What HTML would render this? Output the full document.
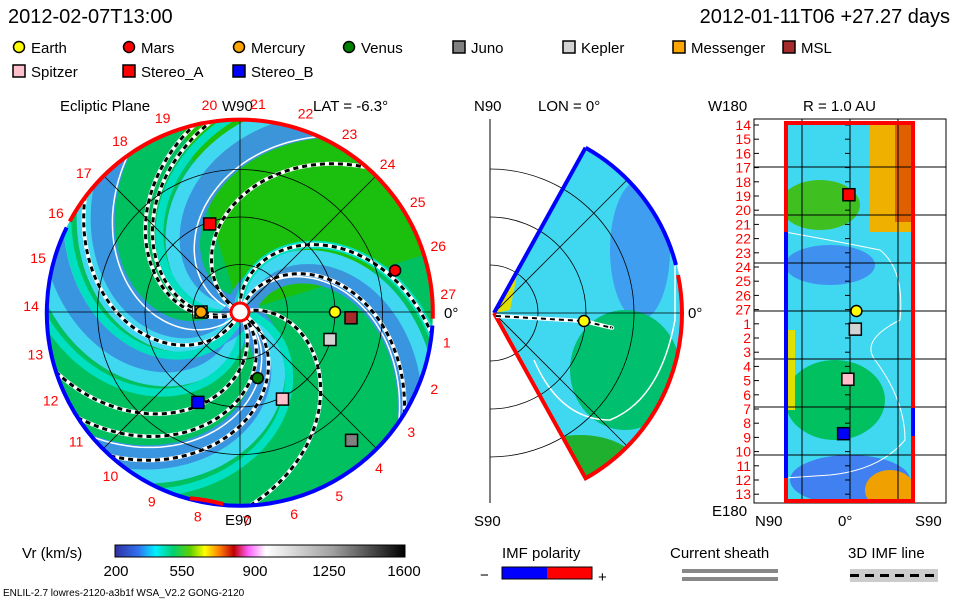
<!DOCTYPE html>
<html><head><meta charset="utf-8"><style>
body{margin:0;background:#fff;width:960px;height:600px;overflow:hidden}
svg{display:block;font-family:"Liberation Sans",sans-serif}
</style></head><body>
<svg id="s" width="960" height="600" viewBox="0 0 960 600" xmlns="http://www.w3.org/2000/svg">
<defs>
<clipPath id="disc"><circle cx="240" cy="312" r="193"/></clipPath>
<clipPath id="wedge"><path d="M494,313 L585.6,147.7 A189,189 0 0 1 585.6,478.3 Z"/></clipPath>
<clipPath id="rect"><rect x="785" y="122" width="129" height="380"/></clipPath>
<linearGradient id="cb" x1="0" x2="1">
<stop offset="0" stop-color="#3030a0"/><stop offset="0.08" stop-color="#3070f0"/><stop offset="0.14" stop-color="#00f0ff"/><stop offset="0.2" stop-color="#00d070"/><stop offset="0.26" stop-color="#60d000"/><stop offset="0.31" stop-color="#ffff00"/><stop offset="0.36" stop-color="#ff8000"/><stop offset="0.41" stop-color="#c00000"/><stop offset="0.46" stop-color="#ff60ff"/><stop offset="0.52" stop-color="#ffffff"/><stop offset="0.75" stop-color="#a0a0a0"/><stop offset="1" stop-color="#000"/>
</linearGradient>
</defs>
<g font-size="20" fill="#000">
<text x="8" y="23">2012-02-07T13:00</text>
<text x="950" y="23" text-anchor="end">2012-01-11T06 +27.27 days</text>
</g>
<g id="legend" font-size="15"></g>
<g font-size="15">
<text x="60" y="111">Ecliptic Plane</text>
<text x="222" y="111">W90</text>
<text x="313" y="111">LAT = -6.3°</text>
<text x="225" y="525">E90</text>
<text x="444" y="318">0°</text>
<text x="474" y="111">N90</text>
<text x="538" y="111">LON = 0°</text>
<text x="474" y="526">S90</text>
<text x="688" y="318">0°</text>
<text x="708" y="111">W180</text>
<text x="803" y="111">R = 1.0 AU</text>
<text x="712" y="516">E180</text>
<text x="755" y="526">N90</text>
<text x="838" y="526">0°</text>
<text x="915" y="526">S90</text>
</g>
<g id="eclip"></g>
<g id="mer"></g>
<g id="rpan"></g>
<g font-size="15">
<text x="22" y="558">Vr (km/s)</text>
<rect x="115" y="545" width="290" height="12" fill="url(#cb)" stroke="#000"/>
<text x="116" y="576" text-anchor="middle">200</text><text x="182" y="576" text-anchor="middle">550</text><text x="255" y="576" text-anchor="middle">900</text><text x="329" y="576" text-anchor="middle">1250</text><text x="404" y="576" text-anchor="middle">1600</text>
<text x="502" y="558">IMF polarity</text>
<text x="480" y="580">−</text><rect x="502" y="567" width="45" height="12" fill="#0000ff"/><rect x="547" y="567" width="45" height="12" fill="#ff0000"/><rect x="502" y="567" width="90" height="12" fill="none" stroke="#000"/><text x="598" y="582">+</text>
<text x="670" y="558">Current sheath</text>
<rect x="682" y="569" width="96" height="4" fill="#888"/><rect x="682" y="577" width="96" height="4" fill="#888"/>
<text x="848" y="558">3D IMF line</text>
<rect x="850" y="569" width="88" height="13" fill="#ccc"/><line x1="850" y1="575.5" x2="938" y2="575.5" stroke="#000" stroke-width="3" stroke-dasharray="9,6"/>
<text x="3" y="596" font-size="10">ENLIL-2.7 lowres-2120-a3b1f WSA_V2.2 GONG-2120</text>
</g>
<script>
const NS="http://www.w3.org/2000/svg";
function mk(p,t,a){const e=document.createElementNS(NS,t);for(const k in a)e.setAttribute(k,a[k]);p.appendChild(e);return e;}
// ---- data ----
const legendNames=["Earth","Mars","Mercury","Venus","Juno","Kepler","Messenger","MSL","Spitzer","Stereo_A","Stereo_B"];
const legendColors=["#ffff00","#ff0000","#ffa500","#008000","#808080","#d3d3d3","#ffa500","#a52a2a","#ffc0cb","#ff0000","#0000ff"];
const legendRound=[1,1,1,1,0,0,0,0,0,0,0];
const bodyNames=["Earth","Mars","Mercury","Venus","Juno","Kepler","MSL","Spitzer","Stereo_A","Stereo_B"];
const bodyAU=[1.0,1.69,0.41,0.72,1.79,0.99,1.17,1.02,0.98,1.05];
const bodyAngle=[0,15,180,-75,-49,-17,-3,-64,109,-115];
const rimLabels=[27,1,2,3,4,5,6,7,8,9,10,11,12,13,14,15,16,17,18,19,20,21,22,23,24,25,26];
const bandPhase=[175,75,-30,-95,235];
const imfPhase=[150,95,70,15,-30,-45,-60,-115,-160,205];
const rowLabels=[14,15,16,17,18,19,20,21,22,23,24,25,26,27,1,2,3,4,5,6,7,8,9,10,11,12,13];
const rBodies=["Stereo_A","Earth","Kepler","Spitzer","Stereo_B"];
const rLat=[-1,6,5,-2,-6];
const rLon=[109,0,-17,-64,-115];
const rColors=["#ff0000","#ffff00","#d3d3d3","#ffc0cb","#0000ff"];
// ---- legend ----
const lg=document.getElementById('legend');
legendNames.forEach((n,i)=>{
 const col=i<8?i:i-8,row=i<8?0:1;
 const x=[14,124,234,344,454,564,674,784][col],y=[48,72][row];
 let m;
 if(legendRound[i]) m=mk(lg,'circle',{cx:x+5,cy:y-1,r:5.5,fill:legendColors[i],stroke:'#000','stroke-width':1.5});
 else m=mk(lg,'rect',{x:x-1,y:y-7,width:12,height:12,fill:legendColors[i],stroke:'#000','stroke-width':1.5});
 
 
 const t=mk(lg,'text',{x:x+17,y:y+5});t.textContent=n;
 
 
});
// ---- ecliptic plane ----
const CX=240,CY=312,R=193,AU=95;
const ex=(au,a)=>CX+au*AU*Math.cos(a*Math.PI/180), ey=(au,a)=>CY-au*AU*Math.sin(a*Math.PI/180);
const E=document.getElementById('eclip');
const g=mk(E,'g',{'clip-path':'url(#disc)'});
mk(g,'circle',{cx:CX,cy:CY,r:R,fill:'#00c060'});
mk(g,'path',{d:`M${CX},${CY} L${CX-60},${CY-R} A${R},${R} 0 0 1 ${CX+R},${CY-60} Z`,fill:'#20c000',opacity:0.85});
const K=50;
function spiral(ph,off){let d='';for(let r=0.05;r<=2.2;r+=0.04){const a=ph+off-K*r;d+=(d?'L':'M')+ex(r,a).toFixed(1)+','+ey(r,a).toFixed(1);}return d;}
bandPhase.forEach((p,i)=>{
 const b=mk(g,'path',{d:spiral(p,0),fill:'none',stroke:'#4090f0','stroke-width':30,opacity:0.9});
 
 
 mk(g,'path',{d:spiral(p,10),fill:'none',stroke:'#40d8f0','stroke-width':14});
 mk(g,'path',{d:spiral(p,20),fill:'none',stroke:'#00e0c0','stroke-width':8});
 mk(g,'path',{d:spiral(p,-8),fill:'none',stroke:'#fff','stroke-width':1.5});
});
imfPhase.forEach(p=>{
 mk(g,'path',{d:spiral(p,0),fill:'none',stroke:'#fff','stroke-width':4});
 const l=mk(g,'path',{d:spiral(p,0),fill:'none',stroke:'#000','stroke-width':3,'stroke-dasharray':'5,4'});
 
 
});
[0.5,1,1.5].forEach(r=>mk(E,'circle',{cx:CX,cy:CY,r:r*AU,fill:'none',stroke:'#000','stroke-width':0.8}));
[0,45,90,135].forEach(a=>mk(E,'line',{x1:ex(2.03,a),y1:ey(2.03,a),x2:ex(2.03,a+180),y2:ey(2.03,a+180),stroke:'#000','stroke-width':0.8}));
const rimR=mk(E,'path',{d:`M${ex(2.03,152)},${ey(2.03,152)} A${R},${R} 0 0 1 ${ex(2.03,-2)},${ey(2.03,-2)}`,fill:'none',stroke:'#ff0000','stroke-width':4});


const rimB=mk(E,'path',{d:`M${ex(2.03,-4)},${ey(2.03,-4)} A${R},${R} 0 1 1 ${ex(2.03,154)},${ey(2.03,154)}`,fill:'none',stroke:'#0000ff','stroke-width':4});


mk(E,'path',{d:`M${ex(2.03,-95)},${ey(2.03,-95)} A${R},${R} 0 0 0 ${ex(2.03,-105)},${ey(2.03,-105)}`,fill:'none',stroke:'#ff0000','stroke-width':4});
rimLabels.forEach((n,i)=>{
 const a=5-i*13.33;
 const t=mk(E,'text',{x:ex(2.2,a),y:ey(2.2,a)+5,fill:'#ff0000','font-size':14,'text-anchor':'middle'});
 t.textContent=n;
 
 
});
mk(E,'circle',{cx:CX,cy:CY,r:9,fill:'#fff',stroke:'#ff0000','stroke-width':3});
bodyNames.forEach((n,i)=>{
 const li=legendNames.indexOf(n),x=ex(bodyAU[i],bodyAngle[i]),y=ey(bodyAU[i],bodyAngle[i]);
 let m;
 if(n==="Mercury"){mk(E,'rect',{x:x-6,y:y-6,width:12,height:12,fill:'#ffa500',stroke:'#000','stroke-width':1.5});}
 if(legendRound[li]) m=mk(E,'circle',{cx:x,cy:y,r:5.5,fill:legendColors[li],stroke:'#000','stroke-width':1.5});
 else m=mk(E,'rect',{x:x-6,y:y-6,width:12,height:12,fill:legendColors[li],stroke:'#000','stroke-width':1.5});
 
 
});
// ---- meridional ----
const M=document.getElementById('mer'),MX=494,MY=313;
mk(M,'line',{x1:490,y1:119,x2:490,y2:503,stroke:'#000'});
const mg=mk(M,'g',{'clip-path':'url(#wedge)'});
mk(mg,'rect',{x:490,y:119,width:200,height:390,fill:'#40d8f0'});
mk(mg,'ellipse',{cx:640,cy:250,rx:30,ry:70,fill:'#4090f0',opacity:0.8});
mk(mg,'ellipse',{cx:625,cy:370,rx:55,ry:60,fill:'#00c070'});
mk(mg,'ellipse',{cx:580,cy:470,rx:60,ry:35,fill:'#20b030'});
mk(mg,'path',{d:'M494,313 L520,260 L510,310 Z',fill:'#e0e000'});
mk(mg,'path',{d:'M534,360 Q560,420 610,420 Q660,400 675,320 L675,170',fill:'none',stroke:'#fff','stroke-width':1.5});
[48,96,144].forEach(r=>mk(M,'path',{d:`M490,${MY-r} A${r},${r} 0 0 1 490,${MY+r}`,fill:'none',stroke:'#000','stroke-width':0.8}));
[45,-45,0].forEach(a=>{const r=a?189:190;mk(M,'line',{x1:MX,y1:MY,x2:MX+r*Math.cos(a*Math.PI/180),y2:MY-r*Math.sin(a*Math.PI/180),stroke:'#000','stroke-width':0.8});});
mk(M,'path',{d:'M585.6,147.7 A189,189 0 0 1 676,265 M494,313 L585.6,147.7',fill:'none',stroke:'#0000ff','stroke-width':4});
mk(M,'path',{d:'M678,275 A189,189 0 0 1 585.6,478.3 L494,313',fill:'none',stroke:'#ff0000','stroke-width':4});
mk(M,'path',{d:'M496,316 L584,321 Q620,330 610,327',fill:'none',stroke:'#fff','stroke-width':4});
mk(M,'path',{d:'M496,316 L584,321 Q620,330 610,327',fill:'none',stroke:'#000','stroke-width':2,'stroke-dasharray':'5,4'});
const me=mk(M,'circle',{cx:584,cy:321,r:5.5,fill:'#ffff00',stroke:'#000','stroke-width':1.5});


// ---- R panel ----
const P=document.getElementById('rpan');
const px=lat=>850+lat*1.0667, py=lon=>311-lon*1.0667;
mk(P,'rect',{x:754,y:119,width:192,height:384,fill:'none',stroke:'#000'});
const pg=mk(P,'g',{'clip-path':'url(#rect)'});
mk(pg,'rect',{x:785,y:122,width:129,height:380,fill:'#40d8f0'});
mk(pg,'rect',{x:870,y:122,width:44,height:110,fill:'#f0b000'});
mk(pg,'rect',{x:895,y:122,width:19,height:100,fill:'#e06000'});
mk(pg,'ellipse',{cx:820,cy:205,rx:40,ry:25,fill:'#40c020'});
mk(pg,'ellipse',{cx:835,cy:400,rx:50,ry:40,fill:'#00c060'});
mk(pg,'ellipse',{cx:850,cy:480,rx:60,ry:25,fill:'#4080f0'});
mk(pg,'ellipse',{cx:830,cy:265,rx:45,ry:20,fill:'#4090f0'});
mk(pg,'ellipse',{cx:890,cy:490,rx:25,ry:20,fill:'#f0a000'});
mk(pg,'rect',{x:785,y:330,width:10,height:80,fill:'#e0e000'});
mk(pg,'path',{d:'M785,232 Q830,240 880,250 Q905,270 900,320 Q860,340 875,360 Q905,400 905,440 Q880,470 830,475 L785,478',fill:'none',stroke:'#fff','stroke-width':1});
[-45,0,45].forEach(l=>mk(P,'line',{x1:px(l),y1:119,x2:px(l),y2:503,stroke:'#000','stroke-width':1}));
[135,90,45,0,-45,-90,-135].forEach(l=>mk(P,'line',{x1:754,y1:py(l),x2:946,y2:py(l),stroke:'#000','stroke-width':1}));
rowLabels.forEach((n,i)=>{
 const y=125+i*14.2;
 mk(P,'line',{x1:754,y1:y,x2:759,y2:y,stroke:'#000'});
 mk(P,'line',{x1:845,y1:y,x2:850,y2:y,stroke:'#000'});
 const t=mk(P,'text',{x:751,y:y+5,fill:'#ff0000','font-size':14,'text-anchor':'end'});t.textContent=n;
 
 
});
mk(P,'rect',{x:786,y:123,width:127,height:378,fill:'none',stroke:'#ff0000','stroke-width':4});
mk(P,'line',{x1:786,y1:232,x2:786,y2:478,stroke:'#0000ff','stroke-width':4});
mk(P,'line',{x1:913,y1:408,x2:913,y2:436,stroke:'#0000ff','stroke-width':4});
rBodies.forEach((n,i)=>{
 const x=px(rLat[i]),y=py(rLon[i]);let m;
 if(n==="Earth") m=mk(P,'circle',{cx:x,cy:y,r:5.5,fill:rColors[i],stroke:'#000','stroke-width':1.5});
 else m=mk(P,'rect',{x:x-6,y:y-6,width:12,height:12,fill:rColors[i],stroke:'#000','stroke-width':1.5});
 
 
});
</script>
</svg>
</body></html>
